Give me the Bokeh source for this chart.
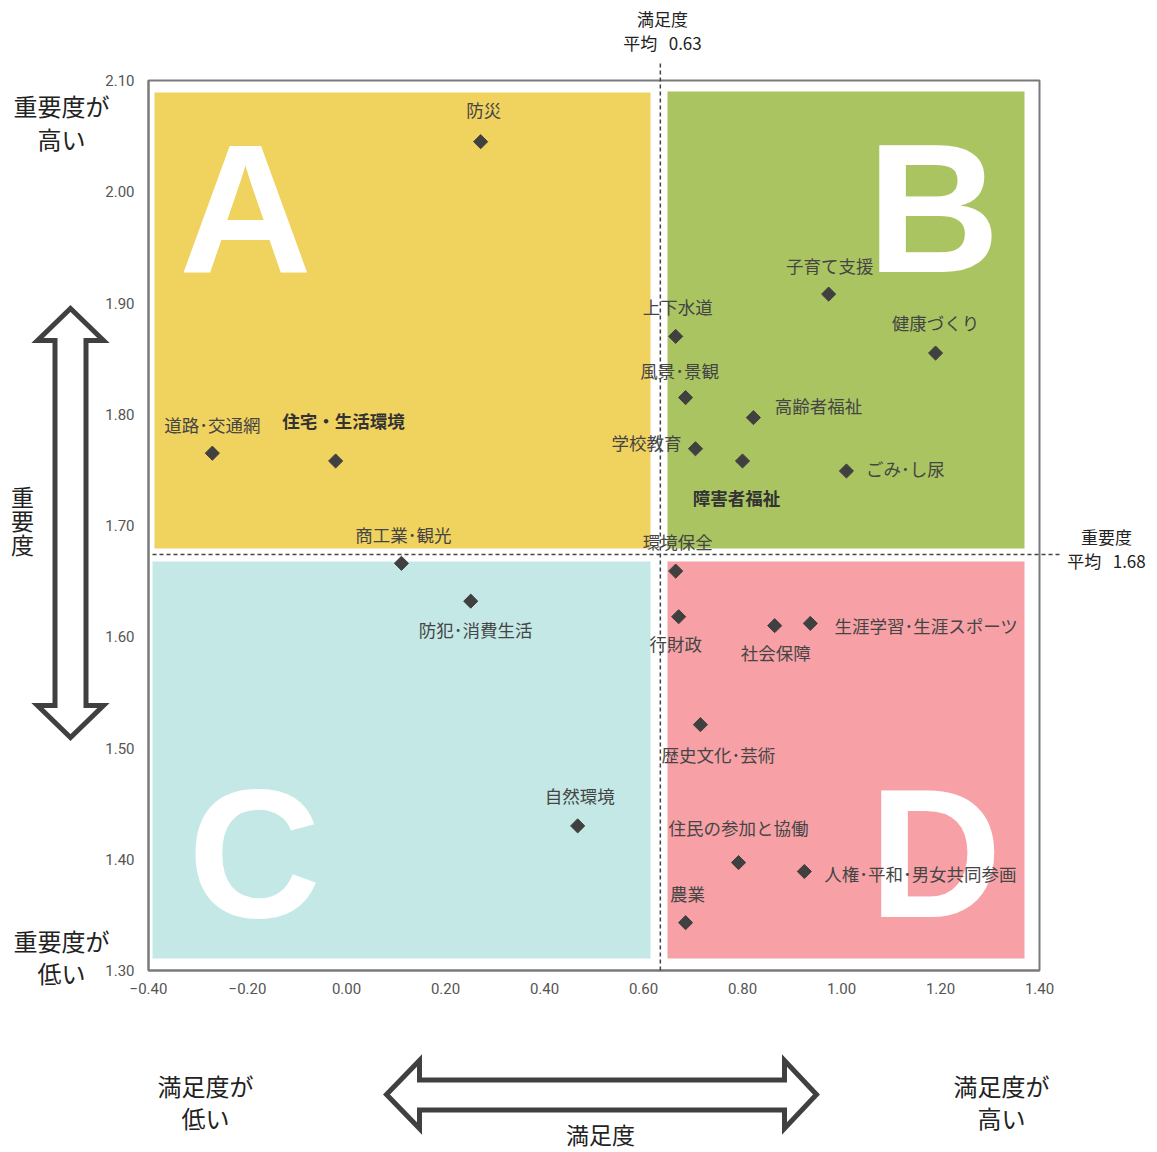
import math
from bokeh.plotting import figure
from bokeh.models import FixedTicker, CustomJSTickFormatter, ColumnDataSource
from bokeh.core.properties import value, field
from bokeh.embed import file_html
from bokeh.resources import INLINE

# ---------------- data ----------------
items = ["防災", "道路･交通網", "住宅・生活環境", "商工業･観光", "防犯･消費生活", "自然環境",
         "子育て支援", "上下水道", "健康づくり", "風景･景観", "高齢者福祉", "学校教育",
         "障害者福祉", "ごみ･し尿", "環境保全", "行財政", "社会保障", "生涯学習･生涯スポーツ",
         "歴史文化･芸術", "住民の参加と協働", "人権･平和･男女共同参画", "農業"]
satisfaction = [0.271, -0.271, -0.022, 0.111, 0.251, 0.467,
                0.974, 0.665, 1.190, 0.685, 0.822, 0.705,
                0.800, 1.010, 0.665, 0.671, 0.865, 0.937,
                0.715, 0.792, 0.925, 0.685]
importance = [2.045, 1.765, 1.758, 1.666, 1.632, 1.430,
              1.908, 1.870, 1.855, 1.815, 1.797, 1.769,
              1.758, 1.749, 1.659, 1.618, 1.610, 1.612,
              1.521, 1.397, 1.389, 1.343]
bold_items = ["住宅・生活環境", "障害者福祉"]

mean_satisfaction = 0.634
mean_importance = 1.674
mean_satisfaction_label = "0.63"
mean_importance_label = "1.68"

x_ticks = [-0.4, -0.2, 0.0, 0.2, 0.4, 0.6, 0.8, 1.0, 1.2, 1.4]
y_ticks = [1.3, 1.4, 1.5, 1.6, 1.7, 1.8, 1.9, 2.0, 2.1]
quadrant_letters = ["A", "B", "C", "D"]

# ---------------- layout helpers (page pixel -> data) ----------------
W, H = 1157, 1152
FL, FT, FW, FH = 148, 80, 891, 890
X0, X1, Y0, Y1 = -0.4, 1.4, 1.3, 2.1
TXT_SHIFT = -3  # "middle" baseline renders slightly low


def fx(px):
    return X0 + (px - FL) / FW * (X1 - X0)


def fy(py):
    return Y1 - (py - FT) / FH * (Y1 - Y0)


# label offsets in pixels (dx right, dy down)
label_offsets = [(3, -29), (0, -26), (8, -37), (2, -26), (5, 31), (2, -27),
                 (1, -26), (2, -27), (0, -28), (-6, -24), (65, -9), (-49, -3),
                 (-6, 40), (59, 1), (2, -27), (-3, 30), (1, 30), (116, 5),
                 (18, 33), (0, -32), (116, 5), (2, -26)]

p = figure(width=W, height=H, x_range=(X0, X1), y_range=(Y0, Y1),
           output_backend="svg", toolbar_location=None,
           min_border_left=FL, min_border_top=FT,
           min_border_right=W - FL - FW, min_border_bottom=H - FT - FH)
p.xgrid.visible = False
p.ygrid.visible = False
p.outline_line_color = "#7a7a7a"
p.outline_line_width = 2
p.background_fill_color = "white"
p.border_fill_color = "white"

for ax, ticks in ((p.xaxis[0], x_ticks), (p.yaxis[0], y_ticks)):
    ax.ticker = FixedTicker(ticks=ticks)
    ax.formatter = CustomJSTickFormatter(
        code="return (tick < -1e-9 ? '\u2212' : '') + Math.abs(tick).toFixed(2);")
    ax.major_tick_line_color = None
    ax.minor_tick_line_color = None
    ax.major_tick_out = 0
    ax.major_tick_in = 0
    ax.axis_line_color = "#7a7a7a"
    ax.axis_line_width = 2
    ax.major_label_text_font = "Roboto"
    ax.major_label_text_font_size = "15px"
    ax.major_label_text_color = "#555555"
p.xaxis.major_label_standoff = 12
p.yaxis.major_label_standoff = 14

# quadrant backgrounds
quad_left = [fx(154), fx(667), fx(152), fx(667)]
quad_right = [fx(650), fx(1024), fx(650), fx(1024)]
quad_top = [fy(92), fy(91), fy(561), fy(561)]
quad_bottom = [fy(548), fy(548), fy(958), fy(958)]
quad_colors = ["#F0D25F", "#AAC462", "#C3E8E6", "#F7A1A6"]
p.quad(left=quad_left, right=quad_right, top=quad_top, bottom=quad_bottom,
       fill_color=quad_colors, line_color=None)

# big letters (alphabetic baseline renders ~62px low, compensate)
p.text(x=[fx(245), fx(933), fx(254), fx(935)],
       y=[fy(207), fy(207), fy(852), fy(852)],
       text=quadrant_letters, text_font=value("Liberation Sans"),
       text_font_style="bold", text_font_size="184px", text_color="white",
       text_align="center", text_baseline="alphabetic")

# mean lines (drawn at overlay level so they may leave the frame)
p.segment(x0=[mean_satisfaction, fx(152)], y0=[Y0, mean_importance],
          x1=[mean_satisfaction, fx(1060)], y1=[fy(60), mean_importance],
          line_color="#444444", line_width=1.5, line_dash="4 3", level="overlay")

# points
p.scatter(satisfaction, importance, marker="square", angle=math.pi / 4, size=10,
          color="#404040")

# point labels
src = ColumnDataSource(dict(
    x=satisfaction, y=importance, text=items,
    dx=[o[0] for o in label_offsets], dy=[o[1] + TXT_SHIFT for o in label_offsets],
    style=["bold" if t in bold_items else "normal" for t in items],
    color=["#333333" if t in bold_items else "#454545" for t in items]))
p.text(x="x", y="y", text="text", x_offset="dx", y_offset="dy", source=src,
       text_font=value("Noto Sans CJK JP"), text_font_style=field("style"),
       text_font_size="17.5px", text_color=field("color"), text_align="center",
       text_baseline="middle")

# outside texts
gap = "\u00a0\u00a0\u00a0"
out_px = [(662, 21, "満足度", "17px"), (662, 45, "平均" + gap + mean_satisfaction_label, "17px"),
          (1106, 539, "重要度", "17px"), (1106, 563, "平均" + gap + mean_importance_label, "17px"),
          (61, 108, "重要度が", "24px"), (61, 141, "高い", "24px"),
          (22, 498, "重", "23px"), (22, 522, "要", "23px"), (22, 546, "度", "23px"),
          (61, 943, "重要度が", "24px"), (61, 975, "低い", "24px"),
          (205, 1088, "満足度が", "24px"), (205, 1120, "低い", "24px"),
          (600, 1136, "満足度", "23px"),
          (1001, 1088, "満足度が", "24px"), (1001, 1120, "高い", "24px")]
for size in ("17px", "23px", "24px"):
    sel = [o for o in out_px if o[3] == size]
    p.text(x=[fx(o[0]) for o in sel], y=[fy(o[1] + TXT_SHIFT) for o in sel],
           text=[o[2] for o in sel],
           text_font=value("Noto Sans CJK JP"), text_font_size=size,
           text_color="#222222", text_align="center", text_baseline="middle",
           level="overlay")

# hollow double arrows
v_pts = [(70, 308), (103, 340), (85.5, 340), (85.5, 705), (103, 705), (70, 737),
         (37, 705), (54.5, 705), (54.5, 340), (37, 340)]
h_pts = [(386, 1094), (419, 1060), (419, 1079.5), (784, 1079.5), (784, 1060),
         (816, 1094), (784, 1128), (784, 1109.5), (419, 1109.5), (419, 1128)]
for pts in (v_pts, h_pts):
    p.patch([fx(a) for a, b in pts], [fy(b) for a, b in pts], fill_color="white",
            line_color="#404040", line_width=5, line_join="miter", level="overlay")

open("out.html", "w").write(file_html(p, INLINE))
